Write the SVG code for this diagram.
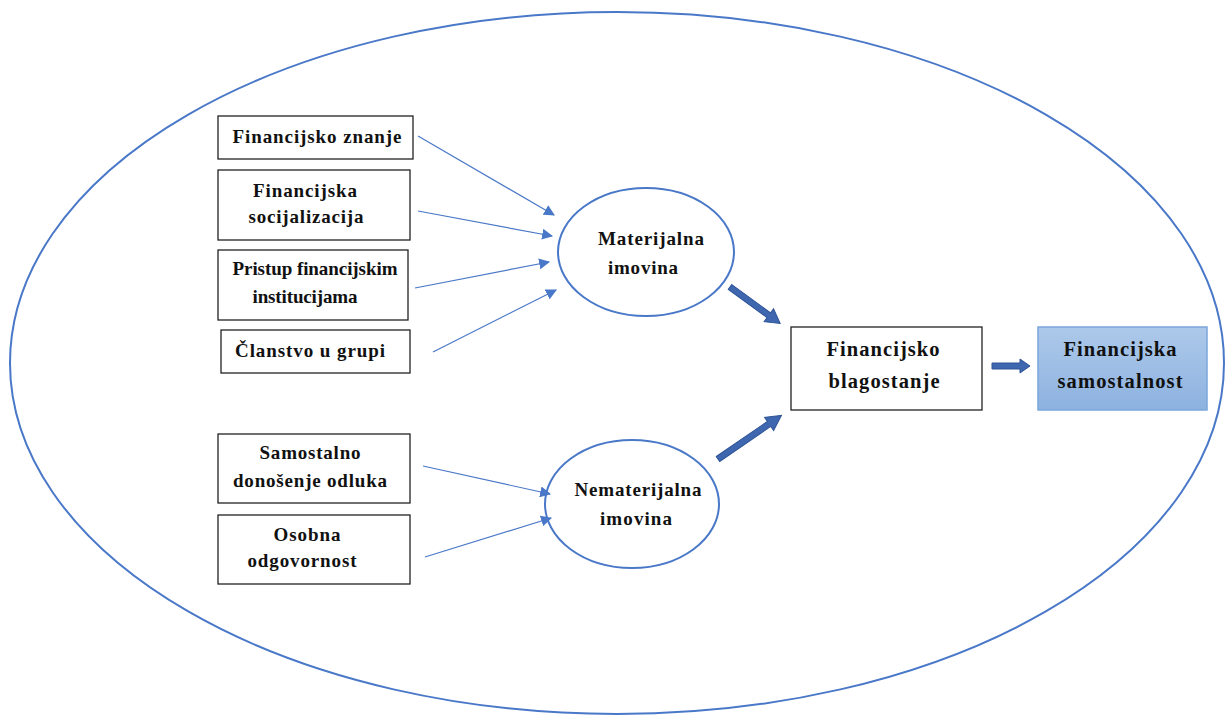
<svg xmlns="http://www.w3.org/2000/svg" width="1226" height="715" viewBox="0 0 1226 715">
<style>
.box{fill:#fff;stroke:#222;stroke-width:1.3}
.ell{fill:#fff;stroke:#4a78c8;stroke-width:2}
.t{font-family:'Liberation Serif','DejaVu Serif',serif;font-weight:bold;font-size:19px;fill:#111;text-anchor:middle}
.big{font-size:20.5px}
.thin{stroke:#4a78c8;stroke-width:1.2;fill:none}
.thick{fill:#3e67b0;stroke:#2f5496;stroke-width:1}
</style>
<defs>
<marker id="ah" viewBox="0 0 10 10" refX="9" refY="5" markerWidth="11" markerHeight="11" markerUnits="userSpaceOnUse" orient="auto">
<path d="M0,0 L10,5 L0,10 Z" fill="#4a78c8"/>
</marker>
<linearGradient id="g" x1="0" y1="0" x2="0" y2="1">
<stop offset="0" stop-color="#adc9ea"/>
<stop offset="1" stop-color="#8db2df"/>
</linearGradient>
</defs>
<ellipse id="outer" cx="617" cy="363" rx="607" ry="351" fill="none" stroke="#4a78c8" stroke-width="2"/>

<g id="n1"><rect class="box" x="218" y="116" width="195" height="43"/><text class="t" font-family="Liberation Serif, serif" x="317" y="143" textLength="169" lengthAdjust="spacing">Financijsko znanje</text></g>
<g id="n2"><rect class="box" x="218" y="170" width="192" height="70"/><text class="t" font-family="Liberation Serif, serif" x="305" y="197" textLength="104" lengthAdjust="spacing">Financijska</text><text class="t" font-family="Liberation Serif, serif" x="306" y="223" textLength="115" lengthAdjust="spacing">socijalizacija</text></g>
<g id="n3"><rect class="box" x="218" y="250" width="190" height="70"/><text class="t" font-family="Liberation Serif, serif" x="315" y="275" textLength="165" lengthAdjust="spacing">Pristup financijskim</text><text class="t" font-family="Liberation Serif, serif" x="305" y="303" textLength="105" lengthAdjust="spacing">institucijama</text></g>
<g id="n4"><rect class="box" x="221" y="330" width="189" height="43"/><text class="t" font-family="Liberation Serif, serif" x="310" y="357" textLength="150" lengthAdjust="spacing">Članstvo u grupi</text></g>
<g id="n5"><rect class="box" x="218" y="434" width="192" height="69"/><text class="t" font-family="Liberation Serif, serif" x="310" y="459" textLength="101" lengthAdjust="spacing">Samostalno</text><text class="t" font-family="Liberation Serif, serif" x="310" y="487" textLength="154" lengthAdjust="spacing">donošenje odluka</text></g>
<g id="n6"><rect class="box" x="218" y="515" width="192" height="69"/><text class="t" font-family="Liberation Serif, serif" x="307" y="541" textLength="67" lengthAdjust="spacing">Osobna</text><text class="t" font-family="Liberation Serif, serif" x="302" y="567" textLength="109" lengthAdjust="spacing">odgovornost</text></g>

<g id="m1"><ellipse class="ell" cx="646" cy="252" rx="88" ry="64"/><text class="t" font-family="Liberation Serif, serif" x="651" y="245" textLength="106" lengthAdjust="spacing">Materijalna</text><text class="t" font-family="Liberation Serif, serif" x="643" y="274" textLength="70" lengthAdjust="spacing">imovina</text></g>
<g id="m2"><ellipse class="ell" cx="632" cy="504" rx="87" ry="64"/><text class="t" font-family="Liberation Serif, serif" x="638" y="496" textLength="127" lengthAdjust="spacing">Nematerijalna</text><text class="t" font-family="Liberation Serif, serif" x="636" y="525" textLength="72" lengthAdjust="spacing">imovina</text></g>

<g id="fb"><rect class="box" x="791" y="327" width="191" height="83"/><text class="t big" font-family="Liberation Serif, serif" x="883" y="356" textLength="113" lengthAdjust="spacing">Financijsko</text><text class="t big" font-family="Liberation Serif, serif" x="884" y="388" textLength="111" lengthAdjust="spacing">blagostanje</text></g>
<g id="fs"><rect x="1038" y="327" width="169" height="83" fill="url(#g)" stroke="#7aa7dc" stroke-width="1.5"/><text class="t big" font-family="Liberation Serif, serif" x="1120" y="356" textLength="113" lengthAdjust="spacing">Financijska</text><text class="t big" font-family="Liberation Serif, serif" x="1120" y="388" textLength="125" lengthAdjust="spacing">samostalnost</text></g>

<g id="connectors">
<line class="thin" x1="418" y1="136" x2="554" y2="215" marker-end="url(#ah)"/>
<line class="thin" x1="418" y1="211" x2="552" y2="236" marker-end="url(#ah)"/>
<line class="thin" x1="415" y1="288" x2="549" y2="262" marker-end="url(#ah)"/>
<line class="thin" x1="433" y1="352" x2="556" y2="290" marker-end="url(#ah)"/>
<line class="thin" x1="423" y1="466" x2="550" y2="494" marker-end="url(#ah)"/>
<line class="thin" x1="425" y1="557" x2="551" y2="518" marker-end="url(#ah)"/>
<path class="thick" transform="translate(730,287) rotate(36)" d="M0,-3 L48,-3 L48,-8 L62,0 L48,8 L48,3 L0,3 Z"/>
<path class="thick" transform="translate(718,459) rotate(-34.5)" d="M0,-3 L62,-3 L62,-8 L77,0 L62,8 L62,3 L0,3 Z"/>
<path class="thick" transform="translate(992,366)" d="M0,-3 L28,-3 L28,-7 L38,0 L28,7 L28,3 L0,3 Z"/>
</g>
</svg>
